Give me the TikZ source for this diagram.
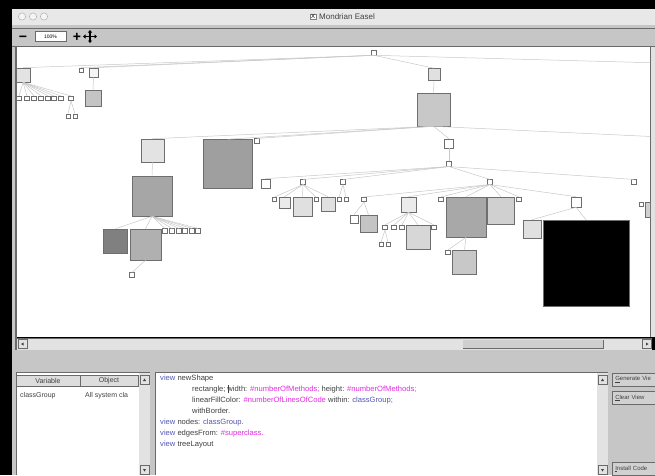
\documentclass[tikz,border=0pt]{standalone}
\usepackage{fontspec}
\setmainfont{Liberation Sans}
\usetikzlibrary{positioning,arrows.meta}

\definecolor{titlebar}{HTML}{E8E8E8}
\definecolor{panel}{HTML}{C6C6C6}
\definecolor{frameline}{HTML}{6A6A6A}
\definecolor{boxline}{HTML}{6E6E6E}
\definecolor{edgeline}{HTML}{C8C8C8}
\definecolor{track}{HTML}{E2E2E2}
\definecolor{codegray}{HTML}{404040}
\definecolor{kwblue}{HTML}{5656B4}
\definecolor{symmag}{HTML}{E22CE2}

\tikzset{
  klass/.style={draw=boxline, line width=0.6pt, inner sep=0pt, minimum size=#1, fill=white},
  klass/.default=5pt,
  edge/.style={edgeline, line width=0.5pt},
  uitext/.style={inner sep=0pt, text=codegray, font=\fontsize{7}{8}\selectfont},
  codeline/.style={uitext, anchor=base west, font=\fontsize{7.6}{9}\selectfont},
  hdrcell/.style={draw=frameline, fill=panel!60!white, line width=0.5pt, minimum height=11pt,
    inner sep=0pt, font=\fontsize{7}{8}\selectfont, text=codegray},
  uibutton/.style={draw=frameline, fill=panel!80!white, line width=0.5pt, minimum height=13pt,
    minimum width=50pt, text width=44pt, align=left, inner sep=0pt, anchor=west,
    font=\fontsize{6}{7}\selectfont, text=codegray},
  scrollbtn/.style={draw=frameline, fill=panel!50!white, line width=0.4pt, minimum size=9pt, inner sep=0pt},
}

\begin{document}
\begin{tikzpicture}[x=1pt,y=-1pt]
\fill[black] (0,0) rectangle (655,475);
\useasboundingbox (0,0) rectangle (655,475);

% title bar
\fill[titlebar] (12,9) rectangle (655,25);
\foreach \x in {22,33,44}
  \draw[gray!60, line width=0.5pt, fill=white!92!gray] (\x,16.5) circle (3.6);
\node[uitext, font=\fontsize{8}{9}\selectfont] (title) at (347,16.5) {Mondrian Easel};
\node[draw=gray, fill=white, inner sep=0.6pt, font=\fontsize{6}{6}\selectfont, left=3pt of title] (xicon) {X};

% toolbar
\fill[panel] (12,25) rectangle (655,47);
\draw[frameline, line width=0.8pt] (12,28) -- (655,28);
\draw[frameline, line width=0.8pt] (12,46.5) -- (655,46.5);
\node[inner sep=0pt, anchor=base, font=\bfseries\fontsize{14}{14}\selectfont] (zoomout) at (23,41) {−};
\node[draw=frameline, fill=white, line width=0.5pt, minimum width=31pt, minimum height=10pt,
  inner sep=0pt, font=\fontsize{5}{5}\selectfont] (zoomfield) at (50.5,36.5) {100\%};
\node[inner sep=0pt, anchor=base, font=\bfseries\fontsize{14}{14}\selectfont] (zoomin) at (77,41.5) {+};
\draw[line width=1.3pt, {Triangle[width=4pt,length=2.5pt]}-{Triangle[width=4pt,length=2.5pt]}] (83,36.5) -- (97,36.5);
\draw[line width=1.3pt, {Triangle[width=4pt,length=2.5pt]}-{Triangle[width=4pt,length=2.5pt]}] (90,30) -- (90,43);

% left window frame and canvas
\fill[panel] (12,47) rectangle (17,475);
\draw[frameline, line width=1.2pt] (16,47) -- (16,350);
\fill[white] (17,47) rectangle (650,337);
\fill[track] (650,47) rectangle (655,337);
\draw[frameline, line width=0.5pt] (650.5,47) -- (650.5,337);

% class tree
\begin{scope}
\clip (17,47) rectangle (650,337);
\node[klass] (root) at (374,52.5) {};
\coordinate (offroot) at (662,63);
% left part
\node[klass=14pt, fill=gray!22] (a) at (23,75) {};
\foreach \x [count=\i] in {19,27,34,41,48,54,61,71}
  \node[klass=4.5pt] (a\i) at (\x,98.5) {};
\node[klass=4pt] (a8l) at (68,116) {};
\node[klass=4pt] (a8r) at (75,116) {};
\node[klass=4pt] (t) at (81,70) {};
\node[klass=9pt, fill=gray!8] (b) at (93.5,72.5) {};
\node[klass=16pt, fill=gray!46] (c) at (93,98.5) {};
% main subtree
\node[klass=12pt, fill=gray!24] (d) at (434,74.5) {};
\node[klass=33pt, fill=gray!43] (e) at (433.5,109.5) {};
\coordinate (offe) at (662,137);
\node[klass=23pt, fill=gray!22] (f) at (152.5,150.5) {};
\node[klass=49pt, fill=gray!75] (g) at (227.5,164) {};
\node[klass=4.5pt] (g1) at (257,141) {};
\node[klass=9pt] (h) at (449,143.5) {};
\node[klass=4.5pt] (i) at (449,164) {};
\node[klass=40pt, fill=gray!70] (p) at (152,196) {};
\node[klass=24pt, fill=gray!100] (q) at (115.5,241) {};
\node[klass=31pt, fill=gray!62] (r) at (145.5,244.5) {};
\foreach \x [count=\i] in {165,172,179,185,192,198}
  \node[klass=4.5pt] (p\i) at (\x,231) {};
\node[klass=4.5pt] (r1) at (132,275) {};
% children of the small node
\node[klass=9pt] (j) at (265.5,183.5) {};
\node[klass=4.5pt] (k) at (303,182) {};
\node[klass=4.5pt] (l) at (343,182) {};
\node[klass=4.5pt] (m) at (490,182) {};
\node[klass=4.5pt] (nn) at (634,182) {};
\node[klass=4pt] (k1) at (274,199.5) {};
\node[klass=11pt, fill=gray!16] (k2) at (284.5,202.5) {};
\node[klass=19pt, fill=gray!24] (k3) at (302.5,206.5) {};
\node[klass=4pt] (k4) at (316,199.5) {};
\node[klass=14pt, fill=gray!24] (k5) at (328,204) {};
\node[klass=4pt] (l1) at (339,199.5) {};
\node[klass=4pt] (l2) at (346,199.5) {};
\node[klass=4.5pt] (m1) at (364,199.5) {};
\node[klass=15pt, fill=gray!16] (m2) at (408.5,204.5) {};
\node[klass=4.5pt] (m3) at (441,199.5) {};
\node[klass=40pt, fill=gray!68] (m4) at (466,217) {};
\node[klass=27pt, fill=gray!37] (m5) at (501,210.5) {};
\node[klass=4.5pt] (m6) at (519,199.5) {};
\node[klass=10pt] (m7) at (576,202) {};
\node[klass=8pt] (m1a) at (354,219) {};
\node[klass=17pt, fill=gray!46] (m1b) at (368.5,223.5) {};
\node[klass=4.5pt] (m2a) at (385,227.5) {};
\node[klass=4.5pt] (m2b) at (394,227.5) {};
\node[klass=4.5pt] (m2c) at (402,227.5) {};
\node[klass=24pt, fill=gray!31] (m2d) at (418,237) {};
\node[klass=4.5pt] (m2e) at (434,227.5) {};
\node[klass=4pt] (m2al) at (381,244.5) {};
\node[klass=4pt] (m2ar) at (388,244.5) {};
\node[klass=4.5pt] (m4a) at (448,252.5) {};
\node[klass=24pt, fill=gray!43] (m4b) at (464.5,262) {};
\node[klass=18pt, fill=gray!24] (m7a) at (532,229) {};
\node[klass=86pt, fill=black] (m7b) at (586,263) {};
% right border
\node[klass=4pt] (fr1) at (641,204) {};
\node[klass=15pt, fill=gray!37] (fr2) at (653,209.5) {};

\foreach \c in {a,t,b,d} \draw[edge] (root.south) -- (\c.north);
\draw[edge] (root.south) -- (offroot);
\foreach \c in {1,...,8} \draw[edge] (a.south) -- (a\c.north);
\foreach \c in {a8l,a8r} \draw[edge] (a8.south) -- (\c.north);
\draw[edge] (b.south) -- (c.north);
\draw[edge] (d.south) -- (e.north);
\foreach \c in {f,g,g1,h} \draw[edge] (e.south) -- (\c.north);
\draw[edge] (e.south) -- (offe);
\draw[edge] (f.south) -- (p.north);
\foreach \c in {q,r,p1,p2,p3,p4,p5,p6} \draw[edge] (p.south) -- (\c.north);
\draw[edge] (r.south) -- (r1.north);
\draw[edge] (h.south) -- (i.north);
\foreach \c in {j,k,l,m,nn} \draw[edge] (i.south) -- (\c.north);
\foreach \c in {1,...,5} \draw[edge] (k.south) -- (k\c.north);
\foreach \c in {1,2} \draw[edge] (l.south) -- (l\c.north);
\foreach \c in {1,...,7} \draw[edge] (m.south) -- (m\c.north);
\foreach \c in {a,b} \draw[edge] (m1.south) -- (m1\c.north);
\foreach \c in {a,b,c,d,e} \draw[edge] (m2.south) -- (m2\c.north);
\foreach \c in {l,r} \draw[edge] (m2a.south) -- (m2a\c.north);
\foreach \c in {a,b} \draw[edge] (m4.south) -- (m4\c.north);
\foreach \c in {a,b} \draw[edge] (m7.south) -- (m7\c.north);
\end{scope}

% horizontal scroll bar
\fill[track] (17,338) rectangle (652,350);
\draw[frameline, line width=0.4pt] (17,338) -- (652,338);
\fill[panel!85!white] (463,339.5) rectangle (603,348.5);
\draw[frameline, line width=0.6pt] (463,348.5) -- (603,348.5) -- (603,339.5);
\node[scrollbtn] (hleft) at (22.5,344) {};
\node[scrollbtn] (hright) at (647,344) {};
\fill[codegray] (hleft.center) ++(1,-1.5) -- ++(0,3) -- ++(-2.5,-1.5) -- cycle;
\fill[codegray] (hright.center) ++(-1,-1.5) -- ++(0,3) -- ++(2.5,-1.5) -- cycle;

% lower panel
\fill[panel] (12,350) rectangle (655,475);

% variables table
\fill[white] (16,372) rectangle (150,475);
\draw[frameline, line width=0.8pt] (16,475) -- (16,372) -- (150,372);
\node[hdrcell, minimum width=64pt] (hvar) at (48,380.5) {Variable};
\node[hdrcell, minimum width=58pt] (hobj) at (109,380.5) {Object};
\node[uitext, anchor=base west] (vname) at (20,397.5) {classGroup};
\node[uitext, anchor=base west] (vobj) at (85,397.5) {All system cla};
\fill[track] (139,373) rectangle (150,475);
\node[scrollbtn] (tup) at (144.5,380) {};
\node[scrollbtn] (tdown) at (144.5,470) {};
\fill[codegray] (tup.center) ++(-1.5,1) -- ++(3,0) -- ++(-1.5,-2.5) -- cycle;
\fill[codegray] (tdown.center) ++(-1.5,-1) -- ++(3,0) -- ++(-1.5,2.5) -- cycle;

% code editor
\fill[white] (155,372) rectangle (608,475);
\draw[frameline, line width=0.8pt] (155,475) -- (155,372) -- (608,372);
\node[codeline] (code1) at (160,380.5) {{\color{kwblue}view} newShape};
\node[codeline] (code2) at (192,391.5) {rectangle; \rule[-1.5pt]{0.4pt}{8pt}\hspace{-0.6pt}width:
  {\color{symmag}\#numberOfMethods;} height: {\color{symmag}\#numberOfMethods;}};
\node[codeline] (code3) at (192,402.5) {linearFillColor: {\color{symmag}\#numberOfLinesOfCode}
  within: {\color{kwblue}classGroup;}};
\node[codeline] (code4) at (192,413.5) {withBorder.};
\node[codeline] (code5) at (160,424.5) {{\color{kwblue}view} nodes: {\color{kwblue}classGroup.}};
\node[codeline] (code6) at (160,435.5) {{\color{kwblue}view} edgesFrom: {\color{symmag}\#superclass.}};
\node[codeline] (code7) at (160,446.5) {{\color{kwblue}view} treeLayout};
\fill[track] (597,373) rectangle (608,475);
\node[scrollbtn] (cup) at (602.5,380) {};
\node[scrollbtn] (cdown) at (602.5,470) {};
\fill[codegray] (cup.center) ++(-1.5,1) -- ++(3,0) -- ++(-1.5,-2.5) -- cycle;
\fill[codegray] (cdown.center) ++(-1.5,-1) -- ++(3,0) -- ++(-1.5,2.5) -- cycle;

% buttons
\node[uibutton] (generate) at (612,379.5) {\underline{G}enerate Vie};
\node[uibutton] (clear) at (612,398) {\underline{C}lear View};
\node[uibutton] (install) at (612,469) {\underline{I}nstall Code};
\end{tikzpicture}
\end{document}
